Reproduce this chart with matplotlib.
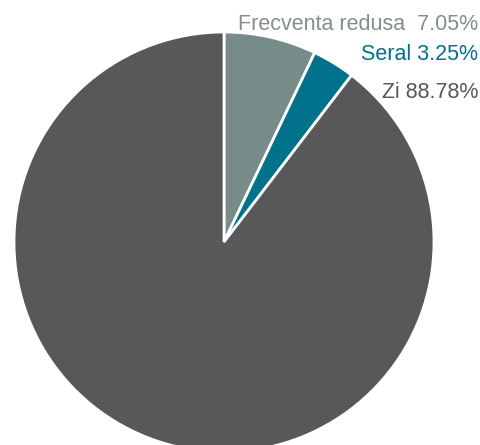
import matplotlib.pyplot as plt

labels = ['Frecventa redusa', 'Seral', 'Zi']
values = [7.05, 3.25, 88.78]
slice_colors = ['#778b88', '#00728b', '#58585a']
label_colors = ['#838f8e', '#00728b', '#58585a']
label_texts = ['Frecventa redusa  7.05%', 'Seral 3.25%', 'Zi 88.78%']
label_y = [24, 54, 92]

plt.rcParams['font.family'] = ['Liberation Sans', 'DejaVu Sans']

fig = plt.figure(figsize=(4.81, 4.45), dpi=100)
ax = fig.add_axes([0, 0, 1, 1])

ax.pie(values, colors=slice_colors, startangle=90, counterclock=False,
       center=(224, 445 - 242), radius=210, frame=True,
       wedgeprops={'edgecolor': 'white', 'linewidth': 2})
ax.set_xlim(0, 481)
ax.set_ylim(0, 445)
ax.axis('off')

for txt, col, y in zip(label_texts, label_colors, label_y):
    ax.text(478, 445 - y, txt, color=col, fontsize=15.5, ha='right', va='center')

fig.savefig('out.png', dpi=100)
